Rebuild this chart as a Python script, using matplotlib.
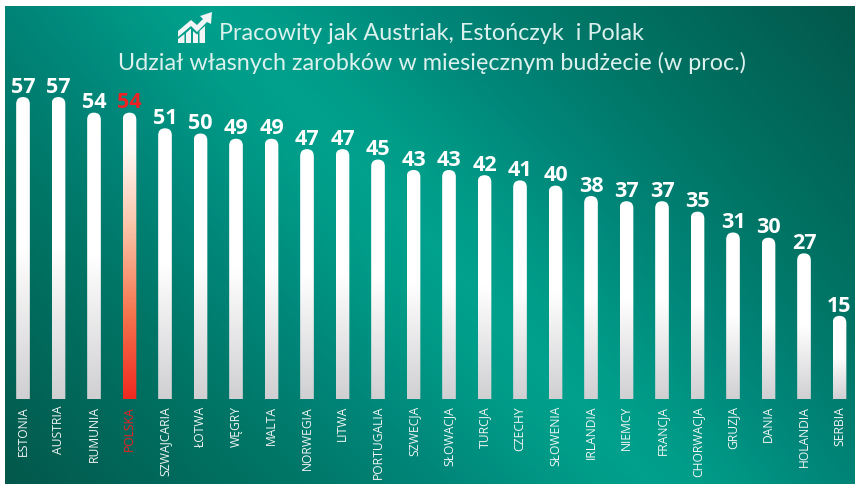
import numpy as np
import matplotlib
matplotlib.use("Agg")
import matplotlib.pyplot as plt
from matplotlib.colors import LinearSegmentedColormap
from matplotlib.path import Path
from matplotlib.patches import PathPatch, Polygon

countries = ["ESTONIA", "AUSTRIA", "RUMUNIA", "POLSKA", "SZWAJCARIA", "ŁOTWA", "WĘGRY", "MALTA",
             "NORWEGIA", "LITWA", "PORTUGALIA", "SZWECJA", "SŁOWACJA", "TURCJA", "CZECHY", "SŁOWENIA",
             "IRLANDIA", "NIEMCY", "FRANCJA", "CHORWACJA", "GRUZJA", "DANIA", "HOLANDIA", "SERBIA"]
values = [57, 57, 54, 54, 51, 50, 49, 49, 47, 47, 45, 43, 43, 42, 41, 40, 38, 37, 37, 35, 31, 30, 27, 15]
highlight = "POLSKA"
title_1 = "Pracowity jak Austriak, Estończyk  i Polak"
title_2 = "Udział własnych zarobków w miesięcznym budżecie (w proc.)"

W, H = 855, 484
fig = plt.figure(figsize=(W / 100, H / 100), dpi=100, facecolor="white")

# background gradient, bright ridge running from top left to bottom right
bg_ax = fig.add_axes([0, 0, 1, 1])
bg_ax.set_xlim(0, W)
bg_ax.set_ylim(H, 0)
bg_ax.axis("off")
yy, xx = np.mgrid[6:H, 5:W]
u = np.abs((xx - 425) * 0.73 - (yy - 240) * 0.68)
v = (xx - 425) * 0.68 + (yy - 240) * 0.73
d = np.clip((u + 0.00012 * v ** 2) / 480, 0, 1)
bg_cmap = LinearSegmentedColormap.from_list(
    "bg", [(0, "#00a18d"), (0.1, "#009d89"), (0.32, "#00877a"), (0.55, "#007566"), (1, "#03574a")])
bg_ax.imshow(d, cmap=bg_cmap, vmin=0, vmax=1, extent=(5, W, H, 6), aspect="auto", zorder=0)

# small chart icon next to the title
icon_col = "#f2f4f5"
icon_shapes = [
    [(178, 31), (191, 20), (197, 25), (203, 19), (200, 16), (212, 12), (211, 24), (207, 22), (197, 32), (191, 26), (178, 37)],
    [(178, 39), (184.5, 34), (184.5, 43), (178, 43)],
    [(186, 33), (191, 28.5), (191, 43), (186, 43)],
    [(193, 31), (197, 34.5), (198, 33.5), (198, 43), (193, 43)],
    [(199.5, 31), (205, 26), (205, 43), (199.5, 43)],
]
for shape in icon_shapes:
    bg_ax.add_patch(Polygon(shape, color=icon_col, lw=0))

bg_ax.text(431.5, 33, title_1, ha="center", va="center", color="#dcf1ed", fontsize=16.8, family="Lato")
bg_ax.text(431.5, 63, title_2, ha="center", va="center", color="#dcf1ed", fontsize=16.8, family="Lato")

# bars: one index step is 35.5 px, one percent is 5.21 px, zero sits at y=394
px_x = 35.5
px_y = 5.21
ax = fig.add_axes([0, 0, 1, 1])
ax.patch.set_alpha(0)
ax.axis("off")

normal_cmap = LinearSegmentedColormap.from_list("normal", ["#ffffff", "#ffffff", "#d0d0d3"])
red_cmap = LinearSegmentedColormap.from_list(
    "red", [(0, "#ffffff"), (0.12, "#fffaf7"), (0.4, "#fbc4a8"), (0.7, "#f5764f"), (1, "#ef2a20")])
grad = np.linspace(0, 1, 256).reshape(-1, 1)

bar_w = 0.385
floor = -5 / px_y  # bars run a little below zero down to y=399
rx = bar_w / 2
ry = 7 / px_y
for i, (name, val) in enumerate(zip(countries, values)):
    is_hl = name == highlight
    left, right = i - rx, i + rx
    verts = [(left, floor), (left, val - ry), (left, val), (i, val), (right, val), (right, val - ry), (right, floor), (left, floor)]
    codes = [Path.MOVETO, Path.LINETO, Path.CURVE3, Path.CURVE3, Path.CURVE3, Path.CURVE3, Path.LINETO, Path.CLOSEPOLY]
    im = ax.imshow(grad, cmap=red_cmap if is_hl else normal_cmap, vmin=0, vmax=1,
                   extent=(left, right, floor, val), aspect="auto", zorder=2, origin="upper")
    clip = PathPatch(Path(verts, codes), transform=ax.transData, fc="none", ec="none")
    ax.add_patch(clip)
    im.set_clip_path(clip)
    ax.annotate(str(val), (i, val), xytext=(0, -0.5), textcoords="offset points", ha="center", va="bottom",
                color="#ee2024" if is_hl else "white", fontsize=15.5, weight="bold", family="Open Sans")
    ax.annotate(name, (i, floor), xytext=(0, -5), textcoords="offset points", ha="center", va="top", rotation=90,
                color="#ee2024" if is_hl else "#f2f5f4", fontsize=8.7, family="Open Sans")

ax.set_xlim(-23 / px_x, (W - 23) / px_x)
ax.set_ylim(-(H - 394) / px_y, 394 / px_y)

fig.savefig("out.png", dpi=100, facecolor="white")
